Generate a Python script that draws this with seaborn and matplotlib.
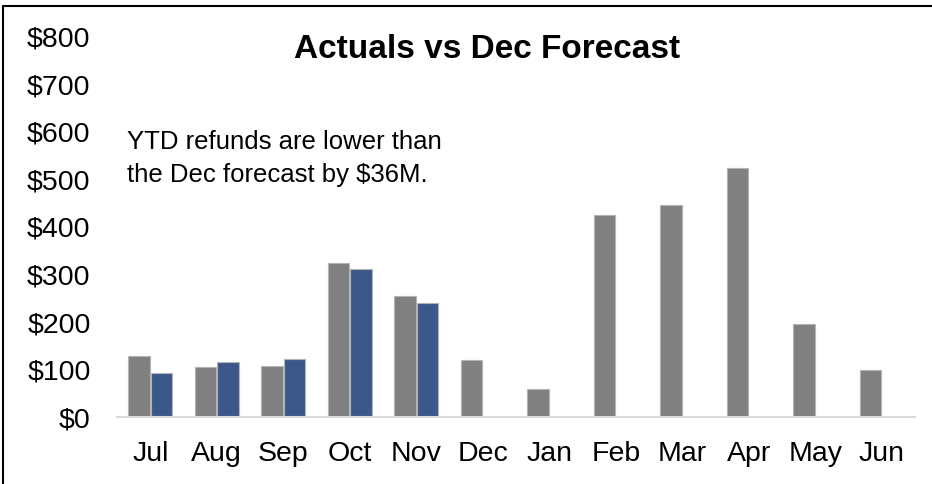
import numpy as np
import pandas as pd
import matplotlib.pyplot as plt
import seaborn as sns
from matplotlib.lines import Line2D

# ── DATA ──────────────────────────────────────────────────────────────────────
months   = ["Jul", "Aug", "Sep", "Oct", "Nov", "Dec",
            "Jan", "Feb", "Mar", "Apr", "May", "Jun"]
forecast = [128, 106, 107, 325, 255, 121, 58, 425, 446, 524, 195, 100]
actuals  = [93, 116, 123, 312, 241, np.nan, np.nan, np.nan, np.nan, np.nan, np.nan, np.nan]
y_ticks  = [0, 100, 200, 300, 400, 500, 600, 700, 800]

df = pd.DataFrame({
    "month": months * 2,
    "value": forecast + actuals,
    "series": ["Dec Forecast"] * len(months) + ["Actuals"] * len(months),
})

# ── STYLE ─────────────────────────────────────────────────────────────────────
sns.set_theme(style="white")
plt.rcParams["font.family"] = ["Liberation Sans", "DejaVu Sans"]
GRAY = "#808080"
BLUE = "#2F5597"

fig = plt.figure(figsize=(9.32, 4.84), dpi=100)
ax = fig.add_axes([0.1255, 0.1384, 0.8563, 0.7852])

sns.barplot(data=df, x="month", y="value", hue="series", order=months,
            hue_order=["Dec Forecast", "Actuals"],
            palette=[GRAY, BLUE], width=0.68, gap=0.06,
            edgecolor="#b4b4b4", linewidth=0.8, ax=ax, legend=False)

ax.set_ylim(0, 800)
ax.set_xlim(-0.5, len(months) - 0.5)
ax.set_yticks(y_ticks)
ax.set_yticklabels([f"${v}" for v in y_ticks])
ax.set_xlabel("")
ax.set_ylabel("")
ax.tick_params(axis="both", length=0, labelsize=20.5, colors="black")
ax.tick_params(axis="x", pad=17)
ax.tick_params(axis="y", pad=19)
for side in ["top", "right", "left"]:
    ax.spines[side].set_visible(False)
ax.spines["bottom"].set_color("#d9d9d9")
ax.spines["bottom"].set_linewidth(1.5)

fig.text(0.523, 0.898, "Actuals vs Dec Forecast", ha="center", va="center",
         fontsize=24, fontweight="bold", color="black")
ax.text(0.013, 0.68, "YTD refunds are lower than\nthe Dec forecast by $36M.",
        transform=ax.transAxes, ha="left", va="center", fontsize=18.5,
        linespacing=1.5, color="black")

# frame around the chart (left and top edges visible in the reference)
fig.add_artist(Line2D([0.0035, 0.0035], [0, 0.988], color="black", lw=1.5))
fig.add_artist(Line2D([0.0035, 1.0], [0.988, 0.988], color="black", lw=1.5))

fig.savefig("out.png", dpi=100)
